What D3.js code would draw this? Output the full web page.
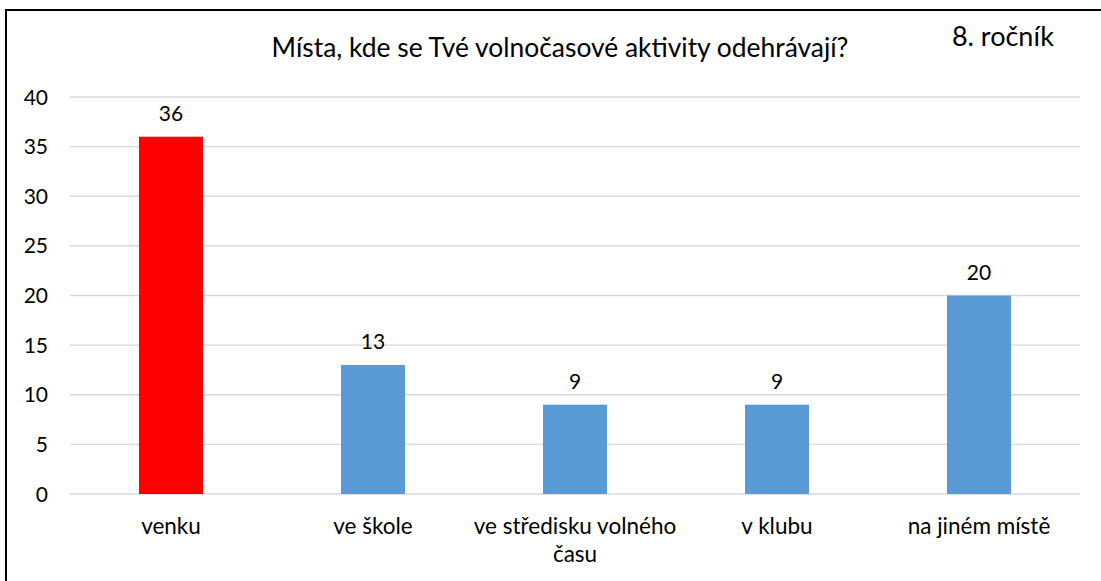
<!DOCTYPE html>
<html><head><meta charset="utf-8">
<script src="https://cdn.jsdelivr.net/npm/d3@7"></script>
<style>body{margin:0;background:#fff}svg{display:block;font-family:Lato,"Open Sans",sans-serif}</style>
</head><body>
<svg id="c" width="1101" height="581"></svg>
<script>
const categories = [["venku"],["ve škole"],["ve středisku volného","času"],["v klubu"],["na jiném místě"]];
const values = [36, 13, 9, 9, 20];
const colors = ["#ff0000","#5b9bd5","#5b9bd5","#5b9bd5","#5b9bd5"];
const yTicks = [0,5,10,15,20,25,30,35,40];
const title = "Místa, kde se Tvé volnočasové aktivity odehrávají?";
const subtitle = "8. ročník";

const svg = d3.select("#c");
const L = 70, R = 1080, T = 97, B = 494;
svg.append("rect").attr("x",6).attr("y",10).attr("width",1200).attr("height",700)
  .attr("fill","#fff").attr("stroke","#000").attr("stroke-width",2);

const x = d3.scaleBand().domain(d3.range(categories.length)).range([L,R]).paddingInner(0.683).paddingOuter(0.3415);
const y = d3.scaleLinear().domain([0,40]).range([B,T]);

const gy = svg.append("g");
yTicks.forEach(t=>{
  gy.append("line").attr("x1",L).attr("x2",R).attr("y1",y(t)).attr("y2",y(t))
    .attr("stroke","#d9d9d9").attr("stroke-width",1.3);
  gy.append("text").attr("x",48).attr("y",y(t)).attr("dy","0.36em").attr("text-anchor","end")
    .attr("font-size",21).attr("fill","#000").text(t);
});

svg.selectAll("rect.bar").data(values).join("rect").attr("class","bar")
  .attr("x",(d,i)=>x(i)).attr("width",x.bandwidth())
  .attr("y",d=>y(d)).attr("height",d=>B-y(d)).attr("fill",(d,i)=>colors[i]);

svg.selectAll("text.val").data(values).join("text").attr("class","val")
  .attr("x",(d,i)=>x(i)+x.bandwidth()/2).attr("y",d=>y(d)-16)
  .attr("text-anchor","middle").attr("font-size",21).text(d=>d);

categories.forEach((lines,i)=>{
  const t = svg.append("text").attr("x",x(i)+x.bandwidth()/2).attr("y",534)
    .attr("text-anchor","middle").attr("font-size",22.5);
  lines.forEach((s,j)=>t.append("tspan").attr("x",x(i)+x.bandwidth()/2).attr("dy",j?28:0).text(s));
});

svg.append("text").attr("x",560).attr("y",57).attr("text-anchor","middle").attr("font-size",26.4).text(title);
svg.append("text").attr("x",1003).attr("y",46).attr("text-anchor","middle").attr("font-size",27).text(subtitle);
</script>
</body></html>
